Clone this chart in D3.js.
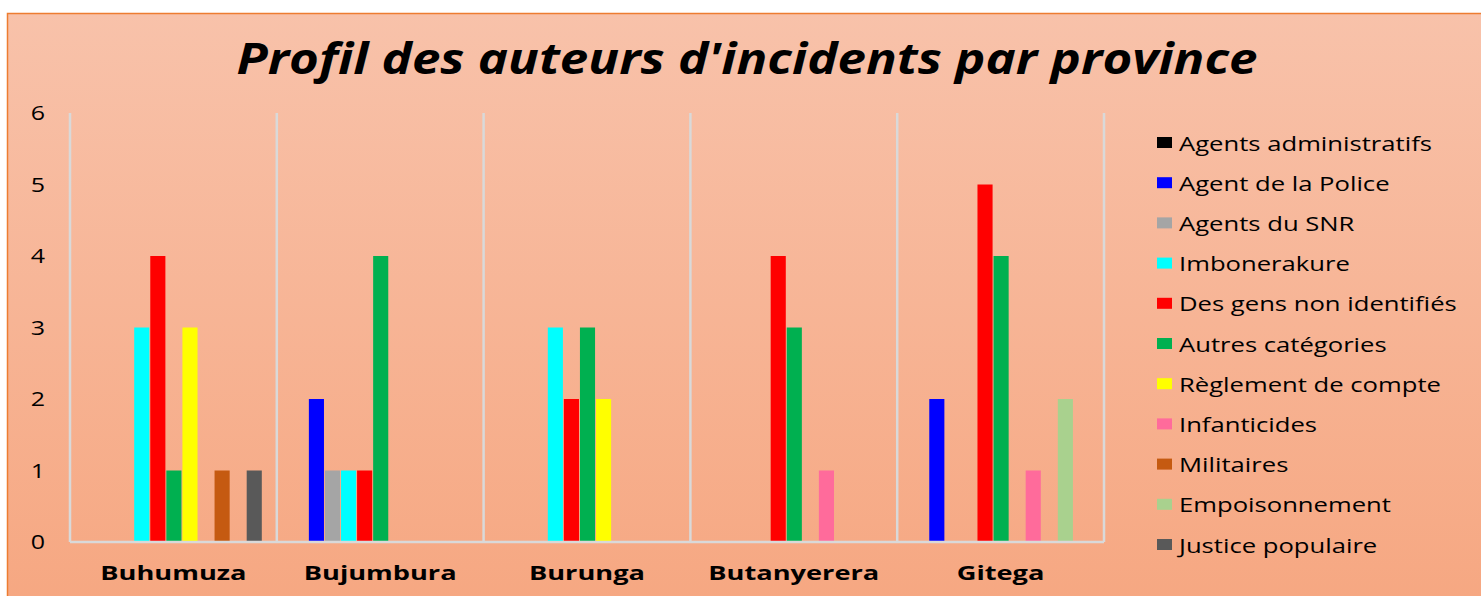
<!DOCTYPE html>
<html>
<head>
<meta charset="utf-8">
<script src="https://cdn.jsdelivr.net/npm/d3@7"></script>
<style>
  html, body { margin: 0; padding: 0; background: #ffffff; }
  svg { display: block; }
  text { font-family: "Open Sans", "DejaVu Sans", sans-serif; fill: #000; }
</style>
</head>
<body>
<svg id="chart" width="1481" height="596"></svg>
<script>
// ---- data ----
const title = "Profil des auteurs d'incidents par province";
const provinces = ["Buhumuza", "Bujumbura", "Burunga", "Butanyerera", "Gitega"];
const seriesNames = [
  "Agents administratifs", "Agent de la Police", "Agents du SNR", "Imbonerakure",
  "Des gens non identifiés", "Autres catégories", "Règlement de compte",
  "Infanticides", "Militaires", "Empoisonnement", "Justice populaire"
];
const seriesColors = [
  "#000000", "#0000ff", "#a5a5a5", "#00ffff", "#ff0000", "#00b050",
  "#ffff00", "#ff6b9b", "#c55a11", "#a9d18e", "#595959"
];
// values[series][province]
const agentsAdministratifs = [0, 0, 0, 0, 0];
const agentPolice          = [0, 2, 0, 0, 2];
const agentsSNR            = [0, 1, 0, 0, 0];
const imbonerakure         = [3, 1, 3, 0, 0];
const nonIdentifies        = [4, 1, 2, 4, 5];
const autresCategories     = [1, 4, 3, 3, 4];
const reglementCompte      = [3, 0, 2, 0, 0];
const infanticides         = [0, 0, 0, 1, 1];
const militaires           = [1, 0, 0, 0, 0];
const empoisonnement       = [0, 0, 0, 0, 2];
const justicePopulaire     = [1, 0, 0, 0, 0];
const seriesValues = [agentsAdministratifs, agentPolice, agentsSNR, imbonerakure,
  nonIdentifies, autresCategories, reglementCompte, infanticides, militaires,
  empoisonnement, justicePopulaire];
const yTicks = [0, 1, 2, 3, 4, 5, 6];

// ---- layout ----
const W = 1481, H = 596;
const plot = { left: 70, right: 1104, top: 113, bottom: 542 };
const svg = d3.select("#chart");

const defs = svg.append("defs");
const grad = defs.append("linearGradient").attr("id", "bg").attr("x1", 0).attr("y1", 0).attr("x2", 0).attr("y2", 1);
grad.append("stop").attr("offset", "0%").attr("stop-color", "#f8c2aa");
grad.append("stop").attr("offset", "100%").attr("stop-color", "#f6a781");

svg.append("rect").attr("x", 7.5).attr("y", 13.5).attr("width", W).attr("height", H)
  .attr("fill", "url(#bg)").attr("stroke", "#ed7d31").attr("stroke-width", 1.5);

const x0 = d3.scaleBand().domain(provinces).range([plot.left, plot.right]).padding(0);
const x1 = d3.scaleBand().domain(seriesNames).range([16, x0.bandwidth() - 15]).paddingInner(0.06);
const y = d3.scaleLinear().domain([0, 6]).range([plot.bottom, plot.top]);

function stretch(sel, factor) {
  sel.each(function () {
    const w = this.getComputedTextLength();
    d3.select(this).attr("textLength", w * factor).attr("lengthAdjust", "spacingAndGlyphs");
  });
}

// title
const t = svg.append("text").attr("x", 747).attr("y", 74).attr("text-anchor", "middle")
  .style("font-size", "43px").style("font-weight", "bold").style("font-style", "italic")
  .text(title);
t.attr("textLength", 1021).attr("lengthAdjust", "spacingAndGlyphs");

// vertical separators
const seps = provinces.map(p => x0(p)).concat([plot.right]);
svg.append("g").selectAll("line").data(seps).join("line")
  .attr("x1", d => d).attr("x2", d => d).attr("y1", plot.top).attr("y2", plot.bottom)
  .attr("stroke", "#d9d9d9").attr("stroke-width", 2.5);

// bars
const groups = svg.append("g").selectAll("g").data(provinces).join("g")
  .attr("transform", p => `translate(${x0(p)},0)`);
groups.selectAll("rect")
  .data((p, pi) => seriesNames.map((s, si) => ({ s, si, v: seriesValues[si][pi] })).filter(d => d.v > 0))
  .join("rect")
  .attr("x", d => x1(d.s)).attr("width", x1.bandwidth())
  .attr("y", d => y(d.v)).attr("height", d => y(0) - y(d.v))
  .attr("fill", d => seriesColors[d.si]);

// baseline
svg.append("line").attr("x1", plot.left).attr("x2", plot.right)
  .attr("y1", plot.bottom).attr("y2", plot.bottom)
  .attr("stroke", "#d9d9d9").attr("stroke-width", 2.5);

// y axis labels
const yl = svg.append("g").selectAll("text").data(yTicks).join("text")
  .attr("x", 45).attr("y", d => y(d) + 7).attr("text-anchor", "end")
  .style("font-size", "20px").text(d => d);
stretch(yl, 1.25);

// category labels
const cl = svg.append("g").selectAll("text").data(provinces).join("text")
  .attr("x", p => x0(p) + x0.bandwidth() / 2).attr("y", 580).attr("text-anchor", "middle")
  .style("font-size", "20px").style("font-weight", "bold").text(p => p);
stretch(cl, 1.36);

// legend
const legend = svg.append("g").selectAll("g").data(seriesNames).join("g")
  .attr("transform", (d, i) => `translate(1157, ${143 + i * 40.2})`);
legend.append("rect").attr("x", 0).attr("y", -6).attr("width", 15).attr("height", 11)
  .attr("fill", (d, i) => seriesColors[i]);
const lt = legend.append("text").attr("x", 22).attr("y", 7.5)
  .style("font-size", "20.5px").text(d => d);
stretch(lt, 1.25);
</script>
</body>
</html>
